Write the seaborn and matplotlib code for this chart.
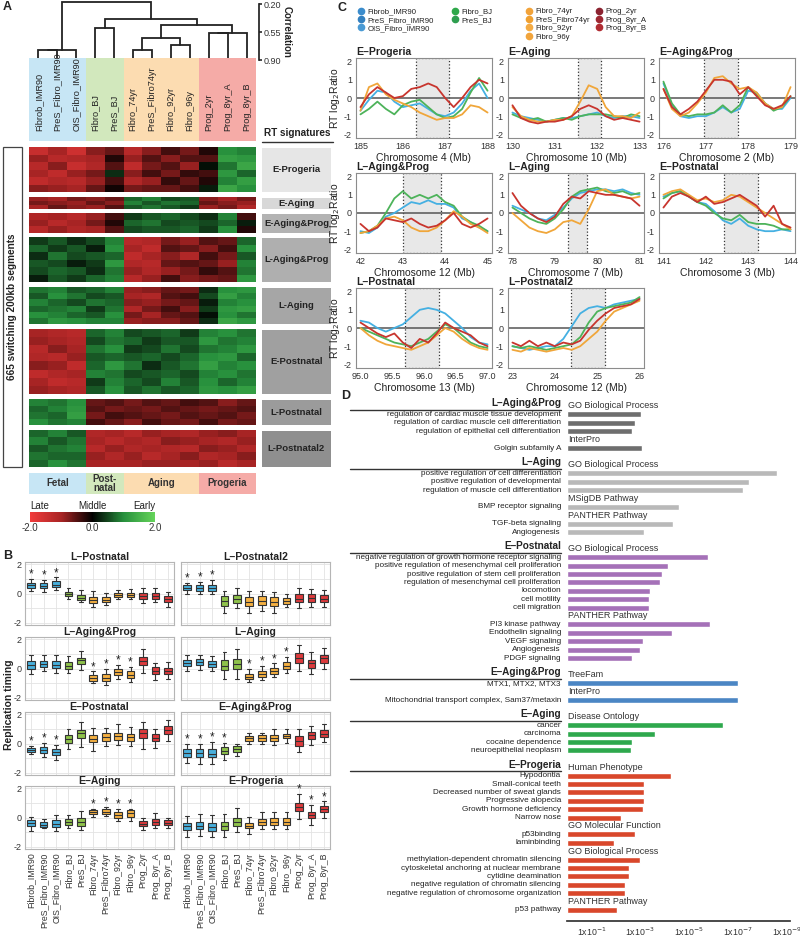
import numpy as np
import pandas as pd
import matplotlib
matplotlib.use("Agg")
import matplotlib.pyplot as plt
import seaborn as sns
from matplotlib.colors import LinearSegmentedColormap
from matplotlib.patches import Rectangle
from matplotlib.lines import Line2D
from matplotlib.ticker import MultipleLocator, FormatStrFormatter
import matplotlib.transforms as mtransforms

W, H = 800, 941

# ---------------- data ----------------
samples = ['Fibrob_IMR90', 'PreS_Fibro_IMR90', 'OIS_Fibro_IMR90', 'Fibro_BJ', 'PreS_BJ',
           'Fibro_74yr', 'PreS_Fibro74yr', 'Fibro_92yr', 'Fibro_96y',
           'Prog_2yr', 'Prog_8yr_A', 'Prog_8yr_B']
sample_groups = ['IMR90'] * 3 + ['BJ'] * 2 + ['Aging'] * 4 + ['Prog'] * 3
groups = ['IMR90', 'BJ', 'Aging', 'Prog']
group_names = ['Fetal', 'Post-\nnatal', 'Aging', 'Progeria']

# dendrogram merges (left id, right id, correlation height); new clusters get ids 12, 13, ...
dendro_merges = [(0, 1, 0.78), (12, 2, 0.77), (3, 4, 0.50), (5, 6, 0.775), (7, 8, 0.71),
                 (15, 16, 0.62), (9, 10, 0.565), (18, 11, 0.56), (17, 19, 0.46),
                 (14, 20, 0.39), (13, 21, 0.18)]

# heatmap rows per RT signature block
e_progeria_rt = [[-1.4, -1.0, -1.5, -0.8, -0.6, -1.2, -0.8, -0.4, -0.7, -0.2, 1.0, 0.9],
                 [-0.9, -1.2, -1.1, -1.0, -0.2, -0.9, -0.5, -0.8, -0.5, -0.5, 1.2, 1.1],
                 [-1.2, -0.8, -1.4, -1.1, -0.5, -1.3, -0.7, -0.5, -0.9, 0.1, 0.8, 1.3],
                 [-1.0, -1.3, -0.9, -0.7, 0.3, -0.8, -0.4, -0.7, -0.3, -0.4, 1.1, 0.7],
                 [-1.3, -1.1, -1.2, -0.9, -0.4, -1.1, -0.9, -0.3, -0.6, -0.2, 0.9, 1.2],
                 [-0.8, -0.9, -1.0, -0.6, -0.1, -0.7, -0.6, -0.6, -0.4, 0.2, 1.3, 1.0]]
e_aging_rt = [[-0.9, -1.0, -0.7, -0.8, -0.6, 0.7, 0.9, 0.5, 0.6, -0.8, -1.0, -0.7],
              [-0.7, -0.8, -0.9, -0.6, -0.8, 0.9, 0.6, 0.8, 0.7, -0.6, -0.8, -0.9],
              [-1.0, -0.6, -0.8, -0.9, -0.5, 0.6, 0.8, 0.6, 0.4, -0.9, -0.7, -1.1]]
e_agingprog_rt = [[-1.1, -1.0, -1.2, -0.9, -0.4, 0.4, 0.6, 0.7, 0.5, 0.3, 0.9, -0.4],
                  [-0.9, -1.2, -1.0, -0.7, -0.2, 0.7, 0.8, 0.5, 0.6, 0.5, 0.7, 0.2],
                  [-1.2, -0.9, -1.1, -1.0, -0.5, 0.5, 0.6, 0.6, 0.7, 0.4, 1.0, -0.2]]
l_agingprog_rt = [[0.4, 0.6, 0.3, 0.5, 0.9, -1.2, -1.1, -0.7, -0.9, -0.5, -0.6, 0.7],
                  [0.7, 0.4, 0.6, 0.2, 1.0, -1.0, -1.3, -0.5, -0.6, -0.8, -0.4, 1.0],
                  [0.3, 0.8, 0.5, 0.6, 0.7, -1.3, -1.0, -0.8, -1.1, -0.4, -0.7, 0.6],
                  [0.6, 0.5, 0.2, 0.4, 1.1, -1.1, -1.2, -0.6, -0.5, -0.6, -0.9, 0.9],
                  [0.5, 0.7, 0.6, 0.3, 0.8, -0.9, -1.1, -0.9, -0.7, -0.3, -0.5, 0.8],
                  [0.2, 0.6, 0.4, 0.7, 0.9, -1.2, -0.9, -0.4, -0.8, -0.7, -0.6, 1.1]]
l_aging_rt = [[0.8, 0.9, 0.6, 0.7, 0.9, -0.9, -0.8, -0.6, -0.7, 0.3, 1.0, 1.1],
              [0.6, 1.0, 0.8, 0.5, 0.6, -1.0, -1.1, -0.5, -0.4, 0.5, 1.2, 0.9],
              [0.9, 0.7, 0.5, 0.8, 0.7, -0.8, -0.9, -0.7, -0.6, 0.2, 0.9, 1.0],
              [0.7, 0.8, 0.9, 0.4, 0.8, -1.1, -0.7, -0.4, -0.8, 0.4, 1.1, 1.2],
              [1.0, 0.9, 0.7, 0.6, 1.0, -0.7, -1.0, -0.6, -0.5, 0.1, 1.0, 0.8],
              [0.8, 1.1, 1.0, 0.9, 0.9, -0.9, -0.8, -0.8, -0.6, 0.3, 1.3, 1.1]]
e_postnatal_rt = [[-1.0, -1.1, -1.2, 0.7, 0.9, 0.5, 0.6, 0.7, 0.4, 0.9, 1.0, 0.8],
                  [-0.9, -1.0, -1.1, 0.5, 0.8, 0.7, 0.4, 0.6, 0.6, 1.1, 0.8, 0.9],
                  [-1.2, -0.8, -1.0, 0.8, 1.0, 0.4, 0.5, 0.8, 0.5, 0.8, 0.9, 1.1],
                  [-1.1, -1.2, -0.9, 0.6, 0.7, 0.6, 0.7, 0.5, 0.7, 1.0, 1.1, 0.7],
                  [-0.8, -0.9, -1.3, 0.7, 1.1, 0.8, 0.3, 0.6, 0.8, 1.2, 0.9, 1.0],
                  [-1.3, -1.1, -1.0, 0.9, 0.8, 0.5, 0.6, 0.7, 0.5, 0.9, 1.0, 0.8],
                  [-1.0, -1.3, -1.2, 0.4, 0.9, 0.7, 0.5, 0.9, 0.6, 1.0, 0.7, 0.9],
                  [-0.9, -1.0, -1.1, 0.6, 1.0, 0.6, 0.8, 0.6, 0.7, 1.1, 1.0, 1.2]]
l_postnatal_rt = [[0.9, 0.8, 1.0, -0.6, -0.5, -0.7, -0.5, -0.6, -0.4, -0.5, -0.8, -0.6],
                  [0.7, 0.9, 1.1, -0.5, -0.7, -0.6, -0.7, -0.5, -0.6, -0.7, -0.6, -0.5],
                  [0.8, 0.7, 1.2, -0.7, -0.4, -0.5, -0.6, -0.7, -0.5, -0.6, -0.5, -0.7],
                  [1.0, 0.8, 0.9, -0.4, -0.6, -0.8, -0.4, -0.6, -0.7, -0.4, -0.7, -0.6]]
l_postnatal2_rt = [[0.7, 0.9, 0.6, -1.1, -1.0, -1.2, -0.9, -1.0, -1.1, -0.9, -0.8, -1.0],
                   [0.9, 0.6, 0.8, -1.0, -1.2, -1.0, -1.1, -0.8, -0.9, -1.0, -1.1, -0.9],
                   [0.6, 0.8, 0.9, -1.2, -0.9, -1.1, -1.0, -1.1, -1.2, -0.8, -0.9, -1.1],
                   [0.8, 0.7, 0.7, -0.9, -1.1, -0.9, -1.2, -1.0, -0.8, -1.1, -1.0, -0.8],
                   [0.7, 1.0, 0.8, -1.0, -1.0, -1.0, -0.9, -0.9, -1.0, -0.9, -1.2, -1.0]]

# box summaries per sample: [whisker low, q1, median, q3, whisker high]
lpostnatal_box = [[0.2, 0.4, 0.55, 0.75, 1.0], [0.1, 0.35, 0.5, 0.7, 0.9], [0.25, 0.45, 0.6, 0.85, 1.1],
                  [-0.35, -0.2, -0.05, 0.1, 0.4], [-0.6, -0.45, -0.3, -0.1, 0.25], [-0.9, -0.65, -0.45, -0.25, 0.15],
                  [-0.8, -0.6, -0.45, -0.25, 0.05], [-0.4, -0.25, -0.1, 0.05, 0.25], [-0.4, -0.25, -0.1, 0.05, 0.3],
                  [-0.65, -0.4, -0.2, 0.05, 0.4], [-0.6, -0.35, -0.15, 0.05, 0.4], [-0.9, -0.6, -0.4, -0.15, 0.1]]
lpostnatal2_box = [[0.0, 0.25, 0.4, 0.55, 0.75], [-0.05, 0.2, 0.4, 0.55, 0.8], [-0.05, 0.2, 0.4, 0.6, 0.9],
                   [-1.3, -0.85, -0.5, -0.2, 0.2], [-1.0, -0.65, -0.4, -0.1, 0.35], [-1.3, -0.85, -0.55, -0.25, 0.15],
                   [-1.2, -0.8, -0.5, -0.2, 0.15], [-1.3, -0.85, -0.55, -0.25, 0.1], [-0.95, -0.7, -0.5, -0.3, -0.05],
                   [-1.0, -0.6, -0.35, -0.05, 0.4], [-0.9, -0.55, -0.3, -0.05, 0.3], [-0.9, -0.6, -0.35, -0.1, 0.25]]
lagingprog_box = [[-0.4, 0.0, 0.25, 0.5, 0.95], [-0.2, 0.1, 0.3, 0.5, 0.9], [-0.3, 0.05, 0.25, 0.5, 0.9],
                  [-0.3, 0.0, 0.2, 0.45, 0.85], [-0.1, 0.3, 0.55, 0.75, 1.2], [-1.0, -0.85, -0.65, -0.45, -0.2],
                  [-1.15, -0.85, -0.65, -0.4, -0.05], [-0.7, -0.45, -0.25, -0.05, 0.25], [-0.95, -0.65, -0.45, -0.2, 0.1],
                  [-0.3, 0.25, 0.5, 0.8, 1.3], [-0.8, -0.35, -0.15, 0.1, 0.4], [-0.75, -0.35, -0.15, 0.05, 0.45]]
laging_box = [[-0.2, 0.2, 0.4, 0.6, 0.9], [-0.1, 0.25, 0.45, 0.65, 0.95], [-0.2, 0.1, 0.3, 0.5, 0.85],
              [-0.7, -0.1, 0.2, 0.55, 1.1], [-0.7, -0.05, 0.3, 0.65, 1.3], [-0.95, -0.75, -0.55, -0.35, -0.05],
              [-0.8, -0.6, -0.4, -0.2, 0.15], [-0.6, -0.35, -0.15, 0.05, 0.35], [-0.3, 0.0, 0.2, 0.45, 0.8],
              [-0.2, 0.4, 0.7, 1.05, 1.6], [-0.4, 0.05, 0.35, 0.6, 1.1], [0.0, 0.4, 0.7, 0.95, 1.4]]
epostnatal_box = [[-0.7, -0.6, -0.45, -0.3, -0.15], [-0.9, -0.65, -0.45, -0.25, 0.05], [-1.1, -0.8, -0.6, -0.35, -0.1],
                  [-0.4, 0.05, 0.3, 0.55, 1.0], [-0.25, 0.4, 0.7, 0.95, 1.45], [-0.5, 0.1, 0.3, 0.6, 1.05],
                  [-0.15, 0.2, 0.45, 0.7, 1.05], [-0.1, 0.25, 0.5, 0.75, 1.3], [-0.2, 0.2, 0.45, 0.65, 1.1],
                  [-0.4, 0.35, 0.75, 1.0, 1.45], [-0.3, 0.15, 0.4, 0.65, 1.0], [0.2, 0.65, 0.95, 1.2, 1.6]]
eagingprog_box = [[-1.35, -0.9, -0.65, -0.35, 0.0], [-1.4, -0.95, -0.65, -0.4, -0.05], [-1.4, -0.95, -0.7, -0.4, 0.1],
                  [-1.1, -0.75, -0.5, -0.25, 0.05], [-0.85, -0.6, -0.4, -0.2, 0.0], [0.0, 0.2, 0.35, 0.5, 0.75],
                  [0.0, 0.2, 0.4, 0.55, 0.75], [-0.1, 0.2, 0.4, 0.6, 1.0], [0.05, 0.35, 0.5, 0.65, 1.0],
                  [-0.6, -0.2, 0.15, 0.5, 1.0], [-0.1, 0.3, 0.55, 0.8, 1.2], [0.1, 0.45, 0.65, 0.9, 1.3]]
eaging_box = [[-0.9, -0.55, -0.35, -0.15, 0.05], [-0.75, -0.65, -0.5, -0.3, -0.1], [-0.95, -0.65, -0.45, -0.2, 0.2],
              [-0.75, -0.5, -0.3, -0.1, 0.15], [-0.85, -0.55, -0.3, -0.05, 0.45], [0.05, 0.25, 0.35, 0.5, 0.6],
              [0.1, 0.25, 0.4, 0.55, 0.7], [-0.25, 0.0, 0.2, 0.35, 0.6], [-0.25, 0.05, 0.3, 0.5, 0.6],
              [-0.85, -0.6, -0.45, -0.25, 0.0], [-0.75, -0.5, -0.3, -0.1, 0.3], [-0.75, -0.5, -0.35, -0.2, 0.0]]
eprogeria_box = [[-1.3, -0.85, -0.6, -0.35, 0.1], [-1.25, -0.8, -0.55, -0.3, 0.25], [-1.35, -0.9, -0.65, -0.35, 0.15],
                 [-1.3, -0.85, -0.6, -0.3, 0.25], [-1.0, -0.6, -0.3, 0.0, 0.65], [-1.1, -0.75, -0.55, -0.35, 0.05],
                 [-0.8, -0.5, -0.3, -0.1, 0.35], [-0.8, -0.5, -0.3, -0.05, 0.4], [-0.8, -0.5, -0.3, -0.05, 0.35],
                 [-0.1, 0.45, 0.7, 1.0, 1.6], [-0.5, 0.0, 0.2, 0.4, 0.85], [0.0, 0.35, 0.6, 0.8, 1.1]]
lpostnatal_star = [0, 1, 2]
lpostnatal2_star = [0, 1, 2]
lagingprog_star = [5, 6, 7, 8]
laging_star = [5, 6, 7, 8]
epostnatal_star = [0, 1, 2]
eagingprog_star = [0, 1, 2, 3]
eaging_star = [5, 6, 7, 8]
eprogeria_star = [9, 10, 11]

# RT profiles (log2 ratio) along each locus, per sample group
c_e_progeria = {'IMR90': [-0.7, -0.1, 0.4, 0.3, -0.2, -0.5, -0.4, -0.3, -0.6, -0.9, -1.0, -0.8, -0.3, 0.4, 0.8, 0.0],
                'BJ': [-0.9, -0.6, -0.2, -0.6, -0.9, -0.4, -0.2, -0.1, -0.5, -0.9, -1.1, -1.0, -0.6, 0.3, 1.1, 0.4],
                'Aging': [-0.7, 0.6, 0.8, 0.2, -0.1, -0.3, -0.5, -0.8, -1.0, -1.2, -1.1, -1.1, -0.9, -0.4, -0.5, -0.8],
                'Prog': [-0.5, 0.2, 0.6, 0.3, 0.0, 0.1, 0.5, 0.6, 0.8, 0.6, 0.0, -0.5, 0.0, 0.6, 1.0, 0.8]}
c_e_aging = {'IMR90': [-0.8, -1.0, -1.1, -1.2, -1.3, -1.2, -1.1, -1.1, -1.0, -0.9, -0.8, -1.0, -1.1, -1.0, -1.0, -1.1],
             'BJ': [-0.9, -1.1, -1.2, -1.1, -1.3, -1.2, -1.1, -1.2, -1.0, -0.9, -0.9, -0.9, -1.0, -1.1, -0.9, -1.0],
             'Aging': [-0.5, -1.0, -1.2, -1.3, -1.3, -1.2, -1.2, -1.0, -0.2, 0.7, 0.5, -0.5, -1.0, -1.0, -1.1, -0.8],
             'Prog': [-0.4, -1.1, -1.3, -1.4, -1.3, -1.3, -1.2, -1.0, -0.6, -0.4, -0.6, -1.0, -1.2, -1.1, -1.2, -1.3]}
c_e_agingprog = {'IMR90': [0.8, -0.4, -1.0, -1.1, -1.0, -1.0, -0.8, -0.5, -0.8, -0.6, 0.4, 0.3, -0.3, -0.6, -0.6, 0.0],
                 'BJ': [0.9, -0.3, -0.9, -1.0, -0.9, -0.9, -0.8, -0.4, -0.8, -0.4, 0.6, 0.2, -0.3, -0.7, -0.5, 0.1],
                 'Aging': [0.5, -0.6, -1.0, -0.8, -0.3, 0.3, 1.1, 1.2, 0.8, 0.5, 0.6, 0.3, -0.3, -0.6, -0.5, 0.6],
                 'Prog': [0.5, -0.5, -0.9, -0.6, -0.2, 0.4, 1.0, 1.0, 0.9, 0.2, 0.6, 0.1, -0.4, -0.6, -0.4, 0.1]}
c_l_agingprog = {'IMR90': [-1.0, -1.1, -0.8, -0.2, 0.0, 0.3, 0.6, 0.5, 0.7, 0.5, 0.5, 0.3, -0.3, -0.5, -0.8, -1.0],
                 'BJ': [-1.1, -1.0, -0.7, 0.0, 0.8, 1.2, 0.8, 1.0, 0.8, 1.0, 0.6, 0.4, -0.2, -0.5, -0.7, -1.0],
                 'Aging': [-1.1, -1.0, -0.7, -0.3, -0.2, -0.4, -0.8, -1.0, -1.0, -0.8, -0.4, 0.1, -0.2, -0.6, -0.8, -1.1],
                 'Prog': [-0.6, -1.0, -0.8, -0.3, -0.4, -0.5, -0.3, -0.6, -0.8, -0.7, -0.4, 0.0, -0.6, -0.8, -0.6, -0.3]}
c_l_aging = {'IMR90': [0.4, 0.2, 0.0, -0.3, -0.4, -0.1, 0.3, 0.8, 1.1, 1.2, 1.3, 1.3, 1.2, 1.3, 1.1, 1.0],
             'BJ': [0.3, 0.0, -0.3, -0.5, -0.6, -0.3, 0.2, 0.9, 1.2, 1.3, 1.4, 1.2, 1.1, 1.2, 1.0, 1.1],
             'Aging': [0.0, -0.4, -0.8, -1.0, -1.1, -0.9, -0.5, -0.4, -0.6, 0.2, 1.2, 1.3, 1.0, 0.9, 0.8, 0.9],
             'Prog': [1.1, 0.4, 0.0, -0.3, -0.5, -0.2, 0.5, 0.9, 0.8, 1.2, 1.1, 1.0, 1.0, 0.9, 0.8, 0.4]}
c_e_postnatal = {'IMR90': [0.9, 1.1, 1.2, 0.9, 0.6, 0.5, 0.1, -0.4, -0.6, -0.3, -0.7, -0.9, -1.0, -1.0, -0.9, -1.0],
                 'BJ': [0.8, 1.1, 1.2, 0.9, 0.6, 0.4, 0.0, -0.3, -0.4, -0.1, -0.5, -0.6, -0.6, -0.7, -0.9, -0.9],
                 'Aging': [1.0, 1.2, 1.3, 1.0, 0.7, 0.8, 0.6, 0.7, 1.0, 0.9, 0.6, 0.3, 0.0, -0.3, -0.6, -0.9],
                 'Prog': [0.3, 0.9, 1.1, 0.9, 0.6, 0.9, 0.5, 0.6, 0.8, 1.0, 0.7, 0.4, -0.2, 0.4, -0.6, -0.8]}
c_l_postnatal = {'IMR90': [0.4, 0.3, 0.0, -0.2, 0.0, 0.2, 0.6, 1.0, 1.1, 1.0, 0.8, 0.4, 0.0, -0.5, -0.8, -0.9],
                 'BJ': [0.0, -0.2, -0.4, -0.6, -0.8, -0.9, -1.0, -0.8, -0.6, -0.2, 0.2, 0.0, -0.4, -0.8, -1.0, -1.1],
                 'Aging': [0.0, -0.4, -0.7, -0.9, -1.0, -1.1, -1.2, -1.0, -0.8, -0.4, 0.0, -0.2, -0.6, -0.9, -1.1, -1.2],
                 'Prog': [0.3, 0.0, -0.3, -0.5, -0.3, -0.8, -1.1, -0.6, -0.8, -0.3, 0.3, 0.0, -0.2, -0.4, -0.8, -1.0]}
c_l_postnatal2 = {'IMR90': [-1.0, -1.1, -1.2, -1.1, -1.0, -1.0, -0.6, 0.1, 0.8, 1.1, 1.2, 1.1, 1.3, 1.4, 1.5, 1.6],
                  'BJ': [-1.0, -1.1, -1.0, -1.1, -1.2, -1.1, -1.0, -0.9, -0.5, 0.3, 0.9, 1.1, 1.2, 1.3, 1.4, 1.7],
                  'Aging': [-1.2, -1.3, -1.1, -1.2, -1.3, -1.2, -1.1, -1.2, -1.0, -0.6, -0.2, 0.4, 0.9, 1.1, 1.3, 1.5],
                  'Prog': [-0.8, -1.0, -0.7, -1.0, -0.8, -1.0, -0.8, -0.9, -0.7, -0.1, 0.4, 0.8, 1.1, 1.2, 1.3, 1.6]}

# GO enrichment: per section, (source, terms, -log10 p)
go_sections = ['L–Aging&Prog', 'L–Aging', 'E–Postnatal', 'E–Aging&Prog', 'E–Aging', 'E–Progeria']
go_lagingprog = [('GO Biological Process', ['regulation of cardiac muscle tissue development',
                                            'regulation of cardiac muscle cell differentiation',
                                            'regulation of epithelial cell differentiation'], [3.03, 2.79, 2.66]),
                 ('InterPro', ['Golgin subfamily A'], [3.07])]
go_laging = [('GO Biological Process', ['positive regulation of cell differentiation',
                                        'positive regulation of developmental',
                                        'regulation of muscle cell differentiation'], [8.6, 7.46, 7.21]),
             ('MSigDB Pathway', ['BMP receptor signaling'], [4.59]),
             ('PANTHER Pathway', ['TGF-beta signaling', 'Angiogenesis'], [4.34, 3.16])]
go_epostnatal = [('GO Biological Process', ['negative regulation of growth hormone receptor signaling',
                                            'positive regulation of mesenchymal cell proliferation',
                                            'positive regulation of stem cell proliferation',
                                            'regulation of mesenchymal cell proliferation',
                                            'locomotion', 'cell motility', 'cell migration'],
                  [5.78, 4.14, 3.89, 3.81, 3.4, 3.36, 3.36]),
                 ('PANTHER Pathway', ['PI3 kinase pathway', 'Endothelin signaling', 'VEGF signaling',
                                      'Angiogenesis', 'PDGF signaling'], [5.86, 4.3, 3.11, 2.99, 2.66])]
go_eagingprog = [('TreeFam', ['MTX1, MTX2, MTX3'], [7.0]),
                 ('InterPro', ['Mitochondrial transport complex, Sam37/metaxin'], [7.0])]
go_eaging = [('Disease Ontology', ['cancer', 'carcinoma', 'cocaine dependence', 'neuroepithelial neoplasm'],
              [6.39, 3.61, 2.66, 2.62])]
go_eprogeria = [('Human Phenotype', ['Hypodontia', 'Small-conical teeth', 'Decreased number of sweat glands',
                                     'Progressive alopecia', 'Growth hormone deficiency', 'Narrow nose'],
                 [4.26, 3.16, 3.16, 3.16, 3.11, 2.21]),
                ('GO Molecular Function', ['p53binding', 'laminbinding'], [2.79, 1.93]),
                ('GO Biological Process', ['methylation-dependent chromatin silencing',
                                           'cytoskeletal anchoring at nuclear membrane',
                                           'cytidine deamination',
                                           'negative regulation of chromatin silencing',
                                           'negative regulation of chromosome organization'],
                 [2.99, 2.54, 2.54, 2.38, 2.38]),
                ('PANTHER Pathway', ['p53 pathway'], [2.05])]

# ---------------- styling ----------------
sns.set_theme(style='white')
plt.rcParams['font.family'] = ['Liberation Sans', 'DejaVu Sans']
plt.rcParams['axes.unicode_minus'] = False
plt.rcParams['text.color'] = '#222222'
plt.rcParams['axes.labelcolor'] = '#222222'
plt.rcParams['xtick.color'] = '#333333'
plt.rcParams['ytick.color'] = '#333333'

group_light = {'IMR90': '#c7e6f5', 'BJ': '#d2e8bd', 'Aging': '#fcdcb1', 'Prog': '#f5aba7'}
box_group_colors = {'IMR90': '#48afdc', 'BJ': '#8fc24b', 'Aging': '#f5b041', 'Prog': '#dd3a3c'}
line_colors = {'IMR90': '#45b0e2', 'BJ': '#4db35a', 'Aging': '#f0a63a', 'Prog': '#c8352e'}
legend_colors = ['#3b8ccc', '#3380bf', '#4a9ad4', '#2ea84a', '#2e9e4f',
                 '#f2a33a', '#f0a030', '#f4ab44', '#f1a43c', '#8b2330', '#9e2832', '#b02d33']
block_grey = ['#e6e6e6', '#d8d8d8', '#b3b3b3', '#afafaf', '#a6a6a6', '#a0a0a0', '#9b9b9b', '#8f8f8f']
go_colors = ['#6e6e6e', '#b9b9b9', '#a571b8', '#4b86c4', '#2ea84d', '#d9472b']


def px(x0, y0, x1, y1):
    return [x0 / W, 1 - y1 / H, (x1 - x0) / W, (y1 - y0) / H]


def ftext(x, y, s, **kw):
    fig.text(x / W, 1 - y / H, s, **kw)


def bare(ax):
    ax.set_xticks([])
    ax.set_yticks([])
    for s in ax.spines.values():
        s.set_visible(False)


fig = plt.figure(figsize=(W / 100, H / 100), dpi=100)

# ---------------- panel A ----------------
ftext(3, 7, 'A', fontsize=9, fontweight='bold', va='center')

axd = fig.add_axes(px(29, 0, 256, 60))
pos = {k: k + 0.5 for k in range(12)}
hgt = {k: 0.9 for k in range(12)}
for n, (a, b, h) in enumerate(dendro_merges):
    axd.plot([pos[a], pos[a], pos[b], pos[b]], [hgt[a], h, h, hgt[b]], color='#222222', lw=1.3,
             solid_joinstyle='miter')
    pos[12 + n] = (pos[a] + pos[b]) / 2
    hgt[12 + n] = h
axd.set_xlim(0, 12)
axd.set_ylim(0.90, 0.15)
axd.set_xticks([])
for s in ['top', 'left', 'bottom']:
    axd.spines[s].set_visible(False)
axd.spines['right'].set_color('#222222')
axd.spines['right'].set_position(('outward', 2))
axd.spines['right'].set_bounds(0.2, 0.9)
axd.yaxis.tick_right()
axd.set_yticks([0.20, 0.55, 0.90])
axd.yaxis.set_major_formatter(FormatStrFormatter('%.2f'))
axd.tick_params(axis='y', labelsize=6.5, length=2.5, pad=1)
ftext(287, 32, 'Correlation', rotation=270, fontsize=7, fontweight='bold', ha='center', va='center')

strip = fig.add_axes(px(29, 58, 256, 141))
for g in groups:
    idx = [i for i, sg in enumerate(sample_groups) if sg == g]
    strip.axvspan(min(idx), max(idx) + 1, color=group_light[g], lw=0)
for i, s in enumerate(samples):
    strip.text(i + 0.5, 0.12, s, rotation=90, ha='center', va='bottom', fontsize=6.6, color='#222222')
strip.set_xlim(0, 12)
strip.set_ylim(0, 1)
bare(strip)

ftext(297, 133, 'RT signatures', fontsize=7.2, fontweight='bold', ha='center', va='center')
fig.add_artist(Line2D([262 / W, 333 / W], [1 - 142 / H, 1 - 142 / H], color='#333333', lw=1))

cmap = LinearSegmentedColormap.from_list(
    'rt', [(0, '#f23c3c'), (0.25, '#a82424'), (0.5, '#000000'), (0.75, '#27903d'), (1, '#66d45a')])
rt_blocks = [('E-Progeria', e_progeria_rt), ('E-Aging', e_aging_rt), ('E-Aging&Prog', e_agingprog_rt),
             ('L-Aging&Prog', l_agingprog_rt), ('L-Aging', l_aging_rt), ('E-Postnatal', e_postnatal_rt),
             ('L-Postnatal', l_postnatal_rt), ('L-Postnatal2', l_postnatal2_rt)]
block_px = [(147, 192), (197, 209), (213, 233), (237, 282), (287, 324), (329, 394), (399, 425), (430, 467)]
cax = fig.add_axes(px(30, 512, 155, 522))
for k, ((name, rows), (y0, y1)) in enumerate(zip(rt_blocks, block_px)):
    ax = fig.add_axes(px(29, y0, 256, y1))
    last = k == len(rt_blocks) - 1
    sns.heatmap(pd.DataFrame(rows, columns=samples), ax=ax, cmap=cmap, vmin=-2, vmax=2,
                xticklabels=False, yticklabels=False, cbar=last,
                cbar_ax=cax if last else None,
                cbar_kws={'orientation': 'horizontal', 'ticks': [-2, 0, 2]} if last else None)
    lab = fig.add_axes(px(262, y0 + 1, 331, y1))
    lab.set_facecolor(block_grey[k])
    bare(lab)
    lab.text(0.5, 0.5, name, ha='center', va='center', fontsize=6.8, fontweight='bold',
             color='#222222', transform=lab.transAxes)

cax.tick_params(length=0, labelsize=7, pad=1)
cax.xaxis.set_major_formatter(FormatStrFormatter('%.1f'))
for s in cax.spines.values():
    s.set_visible(False)
ftext(30, 506, 'Late', fontsize=7, va='center', ha='left')
ftext(92, 506, 'Middle', fontsize=7, va='center', ha='center')
ftext(155, 506, 'Early', fontsize=7, va='center', ha='right')

fig.add_artist(Rectangle((3 / W, 1 - 467 / H), 19 / W, 320 / H, transform=fig.transFigure,
                         fill=False, edgecolor='#444444', lw=0.9))
ftext(12.5, 307, '665 switching 200kb segments', rotation=90, fontsize=7.2, fontweight='bold',
      ha='center', va='center')

cat = fig.add_axes(px(29, 473, 256, 494))
for g, gn in zip(groups, group_names):
    idx = [i for i, sg in enumerate(sample_groups) if sg == g]
    cat.axvspan(min(idx), max(idx) + 1, color=group_light[g], lw=0)
    cat.text((min(idx) + max(idx) + 1) / 2, 0.5, gn, ha='center', va='center', fontsize=7,
             fontweight='bold', color='#333333', linespacing=0.95)
cat.set_xlim(0, 12)
cat.set_ylim(0, 1)
bare(cat)

# ---------------- panel B ----------------
ftext(3, 556, 'B', fontsize=9, fontweight='bold', va='center')
b_panels = [('L–Postnatal', lpostnatal_box, lpostnatal_star), ('L–Postnatal2', lpostnatal2_box, lpostnatal2_star),
            ('L–Aging&Prog', lagingprog_box, lagingprog_star), ('L–Aging', laging_box, laging_star),
            ('E–Postnatal', epostnatal_box, epostnatal_star), ('E–Aging&Prog', eagingprog_box, eagingprog_star),
            ('E–Aging', eaging_box, eaging_star), ('E–Progeria', eprogeria_box, eprogeria_star)]
b_lefts = [25, 181]
b_tops = [562, 637, 712, 786]
box_palette = {s: box_group_colors[g] for s, g in zip(samples, sample_groups)}
for k, (title, stats, stars) in enumerate(b_panels):
    r, c = divmod(k, 2)
    ax = fig.add_axes(px(b_lefts[c], b_tops[r], b_lefts[c] + 149, b_tops[r] + 63))
    df = pd.DataFrame({'sample': np.repeat(samples, 5), 'value': np.ravel(stats)})
    sns.boxplot(data=df, x='sample', y='value', hue='sample', order=samples, hue_order=samples,
                palette=box_palette, whis=np.inf, width=0.62, linewidth=0.8, linecolor='#333333',
                saturation=1, legend=False, ax=ax)
    for i in stars:
        ax.text(i, stats[i][4] + 0.3, '*', ha='center', va='center', fontsize=8.5, color='#222222')
    ax.set_ylim(-2.15, 2.15)
    ax.set_xlim(-0.5, 11.5)
    ax.set_yticks([-2, 0, 2])
    ax.yaxis.set_minor_locator(MultipleLocator(1))
    ax.set_axisbelow(True)
    ax.grid(which='both', color='#e3e3e3', lw=0.6)
    for s in ax.spines.values():
        s.set_color('#b5b5b5')
        s.set_linewidth(0.8)
    ax.set_xlabel('')
    ax.set_ylabel('')
    ax.set_title(title, fontsize=7.5, fontweight='bold', pad=1.5)
    ax.tick_params(axis='both', length=1.5, labelsize=6.5, pad=1)
    if c == 1:
        ax.set_yticklabels([])
    if r < 3:
        ax.set_xticklabels([])
    else:
        ax.set_xticks(range(12))
        ax.set_xticklabels(samples, rotation=90, fontsize=6.3, color='#333333')
ftext(9, 705, 'Replication timing', rotation=90, fontsize=7.5, fontweight='bold', ha='center', va='center')

# ---------------- panel C ----------------
ftext(337, 8, 'C', fontsize=9, fontweight='bold', va='center')
legend_cols = [(samples[0:3], 359), (samples[3:5], 453), (samples[5:9], 527), (samples[9:12], 597)]
for names, x0 in legend_cols:
    handles = [Line2D([], [], marker='o', ls='', color=legend_colors[samples.index(n)], markersize=4.5)
               for n in names]
    fig.legend(handles, names, loc='upper left', bbox_to_anchor=(x0 / W, 1 - 8 / H), frameon=False,
               fontsize=5.6, handlelength=0.6, handletextpad=0.45, labelspacing=0.12,
               borderpad=0, borderaxespad=0)

c_panels = [('E–Progeria', c_e_progeria, (185, 188), (186.3, 187.1), 'Chromosome 4 (Mb)'),
            ('E–Aging', c_e_aging, (130, 133), (131.55, 132.1), 'Chromosome 10 (Mb)'),
            ('E–Aging&Prog', c_e_agingprog, (176, 179), (176.95, 177.75), 'Chromosome 2 (Mb)'),
            ('L–Aging&Prog', c_l_agingprog, (42, 45), (43.0, 43.9), 'Chromosome 12 (Mb)'),
            ('L–Aging', c_l_aging, (78, 81), (79.3, 79.75), 'Chromosome 7 (Mb)'),
            ('E–Postnatal', c_e_postnatal, (141, 144), (142.43, 143.24), 'Chromosome 3 (Mb)'),
            ('L–Postnatal', c_l_postnatal, (95, 97), (95.7, 96.24), 'Chromosome 13 (Mb)'),
            ('L–Postnatal2', c_l_postnatal2, (23, 26), (24.38, 25.19), 'Chromosome 12 (Mb)')]
c_lefts = [356, 508, 659]
c_tops = [58, 173, 288]
for k, (title, prof, (x0, x1), (s0, s1), xlab) in enumerate(c_panels):
    r, c = divmod(k, 3)
    ax = fig.add_axes(px(c_lefts[c], c_tops[r], c_lefts[c] + 136, c_tops[r] + 80))
    ax.axvspan(s0, s1, facecolor='#e8e8e8', edgecolor='#333333', ls=':', lw=0.9, zorder=0)
    ax.axhline(0, color='#555555', lw=1.1, zorder=1)
    rows = []
    for g in groups:
        for xv, yv in zip(np.linspace(x0, x1, len(prof[g])), prof[g]):
            rows.append((g, xv, yv))
    df = pd.DataFrame(rows, columns=['group', 'pos', 'rt'])
    sns.lineplot(data=df, x='pos', y='rt', hue='group', hue_order=groups, palette=line_colors,
                 legend=False, lw=1.3, errorbar=None, ax=ax)
    pad = (x1 - x0) * 0.035
    ax.set_xlim(x0 - pad, x1 + pad)
    ax.set_ylim(-2.2, 2.2)
    ax.set_yticks([-2, -1, 0, 1, 2])
    if x1 - x0 == 2:
        ax.set_xticks([95.0, 95.5, 96.0, 96.5, 97.0])
        ax.xaxis.set_major_formatter(FormatStrFormatter('%.1f'))
    else:
        ax.set_xticks(range(x0, x1 + 1))
    ax.tick_params(axis='both', length=2, labelsize=6.5, pad=1)
    for s in ax.spines.values():
        s.set_color('#8c8c8c')
        s.set_linewidth(0.8)
    ax.set_xlabel(xlab, fontsize=7.5, labelpad=1)
    ax.set_ylabel(r'RT log$_2$Ratio' if c == 0 else '', fontsize=7.5, labelpad=1)
    ax.set_title(title, loc='left', fontsize=7.5, fontweight='bold', pad=2)

# ---------------- panel D ----------------
ftext(341, 396, 'D', fontsize=9, fontweight='bold', va='center')
slot_y0, slot_h = 406, 8.4
axD = fig.add_axes(px(567, 400, 790, 921))
go_all = [go_lagingprog, go_laging, go_epostnatal, go_eagingprog, go_eaging, go_eprogeria]
blend = mtransforms.blended_transform_factory(fig.transFigure, axD.transData)
bar_pos, bar_val, bar_sec = [], [], []
slot = 0
for sec, blocks in zip(go_sections, go_all):
    axD.text(-0.25, slot - 0.3, sec, ha='right', va='center', fontsize=7.2, fontweight='bold',
             clip_on=False)
    axD.plot([350 / W, 561 / W], [slot + 0.5, slot + 0.5], color='#333333', lw=1,
             transform=blend, clip_on=False)
    for src, terms, vals in blocks:
        axD.text(0.05, slot, src, ha='left', va='center', fontsize=6.5, color='#333333')
        slot += 1
        for t, v in zip(terms, vals):
            axD.text(-0.25, slot, t, ha='right', va='center', fontsize=5.9, clip_on=False)
            bar_pos.append(slot)
            bar_val.append(v)
            bar_sec.append(sec)
            slot += 1
    slot += 1
sns.barplot(x=bar_val, y=bar_pos, hue=bar_sec, hue_order=go_sections,
            palette=dict(zip(go_sections, go_colors)), orient='y', native_scale=True,
            width=0.72, saturation=1, errorbar=None, legend=False, ax=axD)
axD.set_xlim(0, 9.15)
axD.set_ylim((921 - slot_y0) / slot_h, (400 - slot_y0) / slot_h)
axD.set_yticks([])
axD.set_xticks([1, 3, 5, 7, 9])
axD.set_xticklabels([r'1x10$^{-1}$', r'1x10$^{-3}$', r'1x10$^{-5}$', r'1x10$^{-7}$', r'1x10$^{-9}$'])
axD.tick_params(axis='x', length=2, labelsize=6.3, pad=1)
for s in ['top', 'left', 'right']:
    axD.spines[s].set_visible(False)
axD.spines['bottom'].set_color('#333333')
axD.set_xlabel('')
axD.set_ylabel('')
axD.patch.set_alpha(0)

fig.savefig('out.png', dpi=100)
